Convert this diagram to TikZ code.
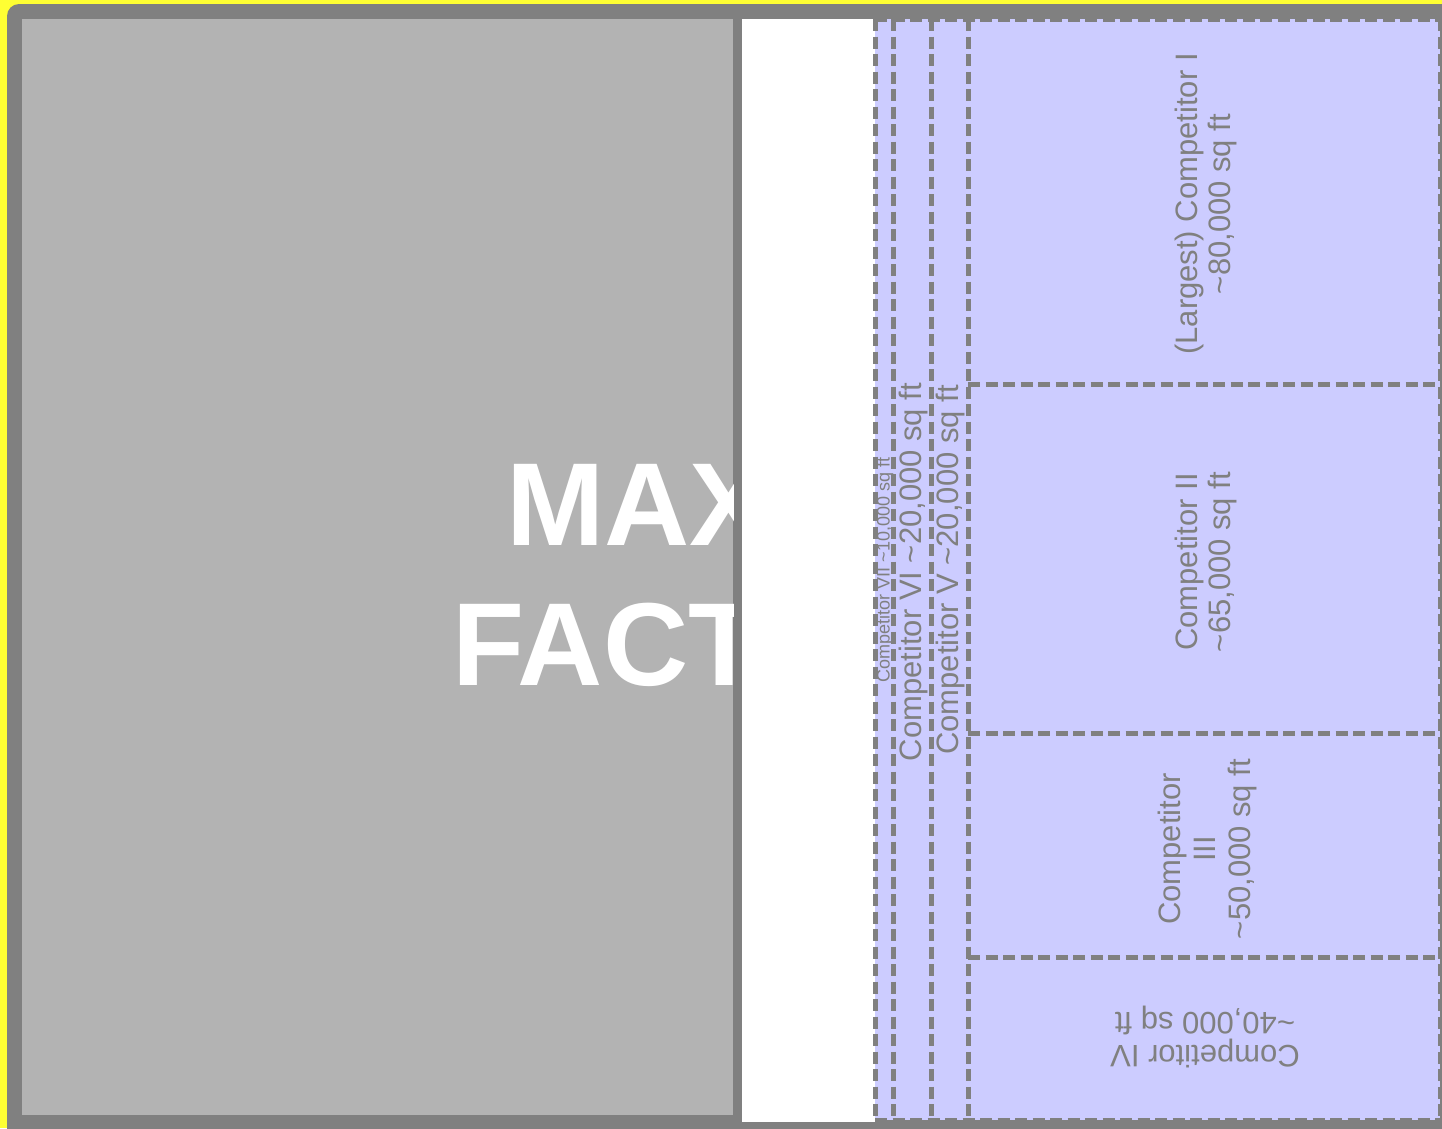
\documentclass[tikz,border=0pt]{standalone}
\usepackage{fontspec}
\setmainfont{Liberation Sans}
\definecolor{bgyellow}{HTML}{FFFF33}
\definecolor{framegray}{HTML}{808080}
\definecolor{panelgray}{HTML}{B3B3B3}
\definecolor{zoneblue}{HTML}{CCCCFF}
\newcommand\tld{\textasciitilde}
\begin{document}
\begin{tikzpicture}[x=1pt,y=-1pt,
  zonefill/.style={fill=zoneblue},
  zoneline/.style={draw=framegray, line width=5pt, dash pattern=on 12pt off 5.5pt},
  lbl/.style={text=framegray, font=\fontsize{31}{33}\selectfont, align=center, inner sep=0pt},
  big/.style={text=white, font=\fontsize{118}{140}\selectfont\bfseries, inner sep=0pt, anchor=base west},
]
\useasboundingbox (0,0) rectangle (1442,1128);
\clip (0,0) rectangle (1442,1128);
\fill[bgyellow] (0,0) rectangle (1442,1128);
\fill[framegray, rounded corners=12pt] (7,4) rectangle (1480,1160);
\fill[panelgray] (22,19) rectangle (733,1115);
\fill[white] (742,19) rectangle (875,1122);
\begin{scope}
  \clip (22,19) rectangle (733,1115);
  \node[big] (max) at (506,545) {MAX};
  \node[big] (fact) at (452,685) {FACT};
\end{scope}
% zones
\fill[zonefill] (875,19) rectangle (1440,1120);
\foreach \xx in {875,893,931,968,1440}
  \draw[zoneline] (\xx,19) -- (\xx,1120);
\draw[zoneline] (875,19) -- (1440,19);
\draw[zoneline] (875,1120) -- (1440,1120);
\foreach \yy in {384,733,957}
  \draw[zoneline] (968,\yy) -- (1440,\yy);
% labels
\node[lbl, font=\fontsize{18}{20}\selectfont, rotate=90] (c7) at (885,570) {Competitor VII \tld10,000 sq ft};
\node[lbl, rotate=90] (c6) at (913,572) {Competitor VI \tld20,000 sq ft};
\node[lbl, rotate=90] (c5) at (950,570) {Competitor V \tld20,000 sq ft};
\node[lbl, rotate=90] (c1) at (1206,204) {(Largest) Competitor I\\\tld80,000 sq ft};
\node[lbl, rotate=90] (c2) at (1206,562) {Competitor II\\\tld65,000 sq ft};
\node[lbl, rotate=90, font=\fontsize{31}{35}\selectfont] (c3) at (1207,849) {Competitor\\III\\\tld50,000 sq ft};
\node[lbl, rotate=180] (c4) at (1205,1037) {Competitor IV\\\tld40,000 sq ft};
\end{tikzpicture}
\end{document}
